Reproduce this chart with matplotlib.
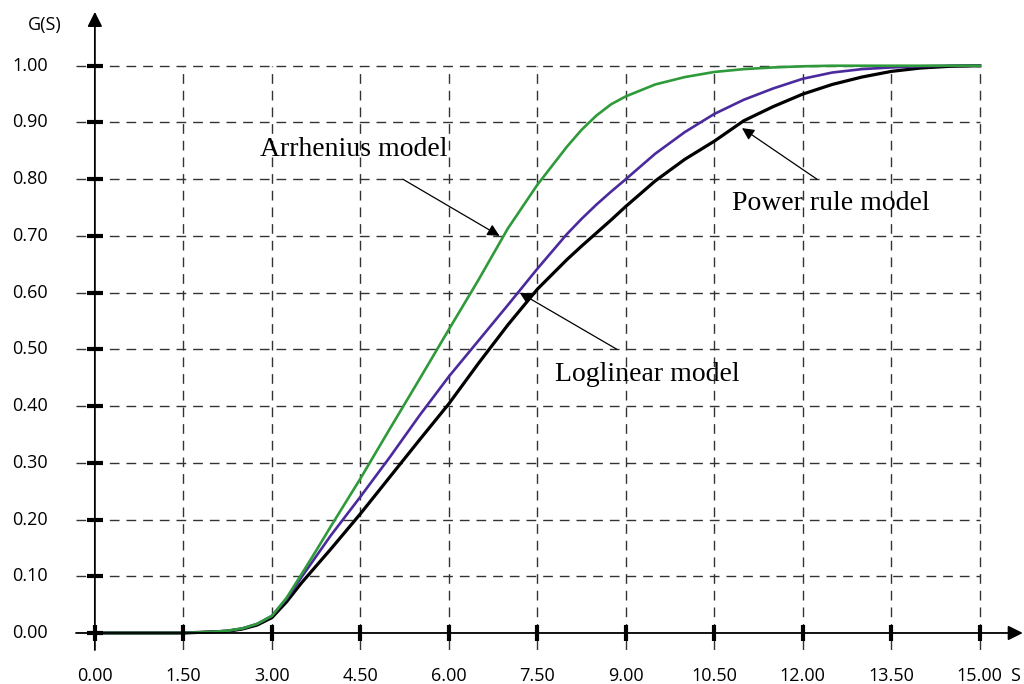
"""Cumulative distribution G(S) for three acceleration models."""

import matplotlib.pyplot as plt
import numpy as np

# data
s = [0.0, 1.5, 2.0, 2.25, 2.5, 2.75, 3.0, 3.25, 3.5, 3.75, 4.0, 4.5, 5.0,
     5.5, 6.0, 6.5, 7.0, 7.5, 8.0, 8.25, 8.5, 8.75, 9.0, 9.5, 10.0, 10.5,
     11.0, 11.5, 12.0, 12.5, 13.0, 13.5, 14.0, 14.5, 15.0]
g_arrhenius = [0.0, 0.0, 0.002, 0.004, 0.008, 0.016, 0.03, 0.062, 0.103,
               0.145, 0.188, 0.272, 0.36, 0.447, 0.535, 0.622, 0.713, 0.79,
               0.857, 0.887, 0.912, 0.932, 0.946, 0.967, 0.98, 0.989, 0.994,
               0.997, 0.999, 1.0, 1.0, 1.0, 1.0, 1.0, 1.0]
g_loglinear = [0.0, 0.0, 0.002, 0.004, 0.008, 0.016, 0.03, 0.06, 0.098,
               0.135, 0.172, 0.24, 0.31, 0.383, 0.452, 0.515, 0.578, 0.642,
               0.703, 0.73, 0.755, 0.778, 0.80, 0.845, 0.883, 0.915, 0.94,
               0.96, 0.977, 0.988, 0.994, 0.997, 0.999, 1.0, 1.0]
g_power = [0.0, 0.0, 0.002, 0.003, 0.007, 0.014, 0.027, 0.055, 0.088, 0.118,
           0.148, 0.21, 0.275, 0.34, 0.404, 0.475, 0.543, 0.606, 0.658, 0.682,
           0.705, 0.728, 0.752, 0.797, 0.835, 0.867, 0.903, 0.928, 0.95,
           0.967, 0.98, 0.99, 0.996, 0.999, 1.0]

x_ticks = [0.0, 1.5, 3.0, 4.5, 6.0, 7.5, 9.0, 10.5, 12.0, 13.5, 15.0]
y_ticks = [0.0, 0.1, 0.2, 0.3, 0.4, 0.5, 0.6, 0.7, 0.8, 0.9, 1.0]

SANS = "Open Sans"
SERIF = "Liberation Serif"

fig = plt.figure(figsize=(10.24, 6.84), dpi=100)
# axes placed so that data units map onto the reference pixels
ax = fig.add_axes([76 / 1024, 34 / 684, 948 / 1024, 641 / 684])
ax.set_xlim(-0.32, 15.75)
ax.set_ylim(-0.03, 1.10)
ax.axis("off")

# dashed grid
dash = (0, (7, 5))
ax.hlines(y_ticks[1:], -0.32, 15.0, color="#333333", lw=1.0, linestyle=dash, zorder=1)
ax.vlines(x_ticks[1:], -0.03, 1.0, color="#333333", lw=1.0, linestyle=dash, zorder=1)

# curves
ax.plot(s, g_power, color="black", lw=2.3, zorder=3)
ax.plot(s, g_loglinear, color="#4a2a9c", lw=1.9, zorder=4)
ax.plot(s, g_arrhenius, color="#2f9a3a", lw=1.9, zorder=5)

# axes with arrow heads
ax.annotate("", xy=(0, 1.095), xytext=(0, -0.03),
            arrowprops=dict(arrowstyle="-|>", color="black", lw=1.3,
                            mutation_scale=22, shrinkA=0, shrinkB=0), zorder=6)
ax.annotate("", xy=(15.73, 0), xytext=(-0.32, 0),
            arrowprops=dict(arrowstyle="-|>", color="black", lw=1.3,
                            mutation_scale=22, shrinkA=0, shrinkB=0), zorder=6)

# thick tick marks
ax.plot(np.zeros(len(y_ticks)), y_ticks, linestyle="none", marker="_",
        markersize=12, mew=3, color="black", zorder=7)
ax.plot(x_ticks, np.zeros(len(x_ticks)), linestyle="none", marker="|",
        markersize=12, mew=3, color="black", zorder=7)

for y in y_ticks:
    ax.text(-0.8, y, f"{y:.2f}", ha="right", va="center", fontsize=13, family=SANS)
for x in x_ticks:
    ax.text(x, -0.075, f"{x:.2f}", ha="center", va="center", fontsize=13, family=SANS)

fig.text(45 / 1024, 1 - 25 / 684, "G(S)", ha="center", va="center", fontsize=13, family=SANS)
fig.text(1010 / 1024, 1 - 676 / 684, "S", ha="left", va="center", fontsize=13, family=SANS)

# model annotations
arrow = dict(arrowstyle="-|>", color="black", lw=0.9, mutation_scale=18,
             shrinkA=0, shrinkB=0)
ax.text(2.8, 0.852, "Arrhenius model", ha="left", va="center", fontsize=20, family=SERIF)
ax.annotate("", xy=(6.86, 0.70), xytext=(5.22, 0.80), arrowprops=arrow, zorder=8)

ax.text(10.8, 0.758, "Power rule model", ha="left", va="center", fontsize=20, family=SERIF)
ax.annotate("", xy=(10.97, 0.89), xytext=(12.24, 0.80), arrowprops=arrow, zorder=8)

ax.text(7.8, 0.455, "Loglinear model", ha="left", va="center", fontsize=20, family=SERIF)
ax.annotate("", xy=(7.2, 0.60), xytext=(8.85, 0.50), arrowprops=arrow, zorder=8)

fig.savefig("out.png", dpi=100)
